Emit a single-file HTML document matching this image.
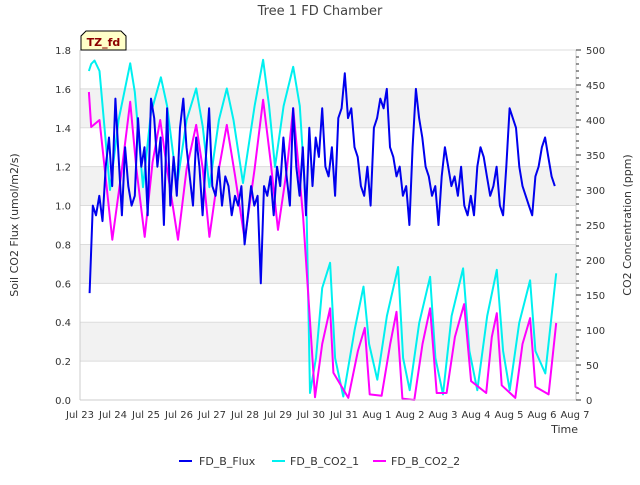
<!DOCTYPE html>
<html><head><meta charset="utf-8"><style>
body{margin:0;background:#fff;font-family:"Liberation Sans","DejaVu Sans",sans-serif}
svg text{font-family:"DejaVu Sans","Liberation Sans",sans-serif}
</style></head><body>
<svg id="chart" width="640" height="480" viewBox="0 0 640 480" xmlns="http://www.w3.org/2000/svg">
<text x="320" y="15" text-anchor="middle" font-size="13" fill="#444">Tree 1 FD Chamber</text>
<g id="bands"></g>
<g id="grid"></g>
<g id="series"></g>
<g id="axes"></g>
<g>
<path d="M81,50 L81,36 L86,31 L121,31 L126,36 L126,50 Z" fill="#ffffc8" stroke="#000" stroke-width="1"/>
<text x="103.5" y="46" text-anchor="middle" font-size="11" font-weight="bold" fill="#8b0000">TZ_fd</text>
</g>
<text transform="translate(18,225) rotate(-90)" text-anchor="middle" font-size="11" fill="#333">Soil CO2 Flux (umol/m2/s)</text>
<text transform="translate(631,225) rotate(-90)" text-anchor="middle" font-size="11" fill="#333">CO2 Concentration (ppm)</text>
<text x="578" y="433" text-anchor="end" font-size="11" fill="#333">Time</text>
<g>
<g><line x1="179" y1="461" x2="192" y2="461" stroke="#0000ee" stroke-width="2"/><text x="199" y="465" font-size="11" fill="#333">FD_B_Flux</text></g>
<g><line x1="272" y1="461" x2="285" y2="461" stroke="#00f0f0" stroke-width="2"/><text x="290" y="465" font-size="11" fill="#333">FD_B_CO2_1</text></g>
<g><line x1="373" y1="461" x2="386" y2="461" stroke="#ff00ff" stroke-width="2"/><text x="391" y="465" font-size="11" fill="#333">FD_B_CO2_2</text></g>
</g>
</svg>
<script>
// data (t = days since Jul 23)
const xTickLabels=["Jul 23","Jul 24","Jul 25","Jul 26","Jul 27","Jul 28","Jul 29","Jul 30","Jul 31","Aug 1","Aug 2","Aug 3","Aug 4","Aug 5","Aug 6","Aug 7"];
const leftTicks=[0,0.2,0.4,0.6,0.8,1.0,1.2,1.4,1.6,1.8];
const rightTicks=[0,50,100,150,200,250,300,350,400,450,500];
const fluxStart=0.29, fluxStep=0.0979;
const fluxValues=[0.55,1.0,0.95,1.05,0.92,1.2,1.35,1.1,
1.55,1.25,0.95,1.3,1.1,1.0,1.05,1.45,1.2,1.3,
0.95,1.55,1.45,1.2,1.35,0.9,1.5,1.0,1.25,1.05,
1.4,1.55,1.3,1.15,1.0,1.35,1.2,0.95,1.25,1.5,
1.1,1.05,1.2,1.0,1.15,1.1,0.95,1.05,1.0,1.1,
0.8,0.95,1.1,1.0,1.05,0.6,1.1,1.05,1.15,0.95,
1.2,1.1,1.35,1.15,1.0,1.5,1.2,1.05,1.3,0.95,
1.4,1.1,1.35,1.25,1.5,1.2,1.15,1.3,1.05,1.45,
1.5,1.68,1.45,1.5,1.3,1.25,1.1,1.05,1.2,1.0,
1.4,1.45,1.55,1.5,1.6,1.3,1.25,1.15,1.2,1.05,
1.1,0.9,1.3,1.6,1.45,1.35,1.2,1.15,1.05,1.1,
0.9,1.15,1.3,1.2,1.1,1.15,1.05,1.2,1.0,0.95,
1.05,0.95,1.2,1.3,1.25,1.15,1.05,1.1,1.2,1.0,
0.95,1.2,1.5,1.45,1.4,1.2,1.1,1.05,1.0,0.95,
1.15,1.2,1.3,1.35,1.25,1.15,1.1];
const co2aTimes=[0.27,0.34,0.44,0.59,0.91,1.17,1.52,1.66,1.91,2.15,2.45,2.64,2.94,3.23,3.52,3.72,3.92,4.21,4.45,4.65,4.94,5.29,5.55,5.73,5.91,6.17,6.46,6.66,6.87,6.97,7.15,7.34,7.58,7.73,7.98,8.32,8.59,8.76,9.01,9.30,9.64,9.79,9.99,10.28,10.61,10.77,11.0,11.26,11.61,11.80,12.04,12.34,12.63,12.82,13.02,13.31,13.64,13.80,14.10,14.43];
const co2aValues=[470,480,485,470,300,400,481,440,304,410,461,420,307,400,445,390,304,400,445,400,310,420,486,420,333,420,476,420,261,10,60,160,196,60,5,100,162,80,29,120,190,60,14,110,176,60,8,120,188,70,14,120,186,70,14,110,171,70,38,181];
const co2bTimes=[0.27,0.34,0.59,0.98,1.27,1.52,1.71,1.96,2.20,2.43,2.64,2.97,3.23,3.52,3.72,3.92,4.21,4.45,4.70,4.99,5.29,5.55,5.78,6.0,6.27,6.46,6.76,7.12,7.34,7.58,7.68,8.13,8.42,8.63,8.78,9.14,9.40,9.59,9.77,10.13,10.38,10.61,10.81,11.11,11.36,11.64,11.85,12.31,12.48,12.63,12.78,13.19,13.41,13.64,13.80,14.20,14.43];
const co2bValues=[440,390,400,229,330,426,330,233,340,400,330,229,330,393,330,233,330,393,320,229,330,429,340,243,330,417,262,4,80,131,39,3,70,103,8,6,80,126,2,0,80,131,10,10,90,137,27,10,90,124,21,3,80,117,19,8,110];
// layout
const X0=80,X1=576,Y0=400,Y1=50,XT0=80,DAY=33;
const xs=t=>XT0+t*DAY;
const yL=v=>Y0-(v/1.8)*(Y0-Y1);
const yR=v=>Y0-(v/500)*(Y0-Y1);
const NS="http://www.w3.org/2000/svg";
function mk(tag,attrs,parent){const e=document.createElementNS(NS,tag);for(const k in attrs)e.setAttribute(k,attrs[k]);parent.appendChild(e);return e;}
const bands=document.getElementById('bands'),grid=document.getElementById('grid'),axes=document.getElementById('axes'),ser=document.getElementById('series');
mk('rect',{x:X0,y:Y1,width:X1-X0,height:Y0-Y1,fill:'#fff'},bands);
[[0.2,0.4],[0.6,0.8],[1.0,1.2],[1.4,1.6]].forEach(b=>{const r=mk('rect',{x:X0,y:yL(b[1]),width:X1-X0,height:yL(b[0])-yL(b[1]),fill:'#f2f2f2'},bands);

});
leftTicks.forEach(v=>{const l=mk('line',{x1:X0,x2:X1,y1:yL(v),y2:yL(v),stroke:'#dcdcdc','stroke-width':1},grid);


const t=mk('text',{x:X0-9,y:yL(v)+4,'text-anchor':'end','font-size':10,fill:'#333'},axes);t.textContent=v.toFixed(1);

});
mk('line',{x1:X0,x2:X0,y1:Y1,y2:Y0,stroke:'#ccc'},axes);
mk('line',{x1:X1,x2:X1,y1:Y1,y2:Y0,stroke:'#ccc'},axes);
mk('line',{x1:X0,x2:X1,y1:Y0,y2:Y0,stroke:'#ccc'},axes);
for(let v=0;v<=500;v+=10){mk('line',{x1:X1,x2:X1+(v%50===0?5:3),y1:yR(v),y2:yR(v),stroke:'#333'},axes);}
rightTicks.forEach(v=>{const t=mk('text',{x:X1+10,y:yR(v)+4,'font-size':10,fill:'#333'},axes);t.textContent=v;

});
xTickLabels.forEach((s,i)=>{const t=mk('text',{x:xs(i),y:418,'text-anchor':'middle','font-size':10,fill:'#333'},axes);t.textContent=s;

});
function line(pts,color,name){const p=mk('polyline',{points:pts.map(q=>q[0].toFixed(1)+','+q[1].toFixed(1)).join(' '),fill:'none',stroke:color,'stroke-width':2,'stroke-linejoin':'round'},ser);

}
line(co2aTimes.map((t,i)=>[xs(t),yR(co2aValues[i])]),'#00f0f0','series-co2-1');
line(co2bTimes.map((t,i)=>[xs(t),yR(co2bValues[i])]),'#ff00ff','series-co2-2');
line(fluxValues.map((v,i)=>[xs(fluxStart+i*fluxStep),yL(v)]),'#0000ee','series-flux');
</script>
</body></html>
